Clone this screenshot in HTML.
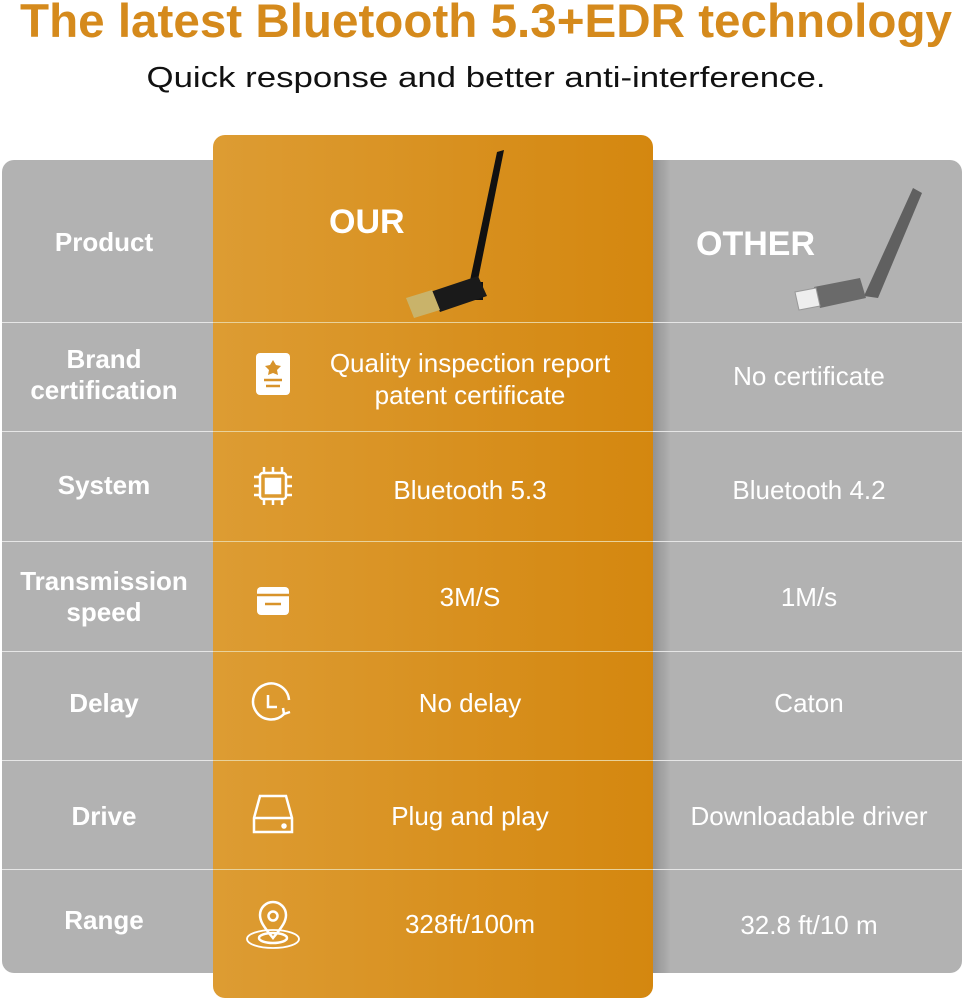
<!DOCTYPE html>
<html><head><meta charset="utf-8"><style>body{margin:0;background:#fff}svg{display:block}</style></head><body>
<svg width="964" height="1000" viewBox="0 0 964 1000" xmlns="http://www.w3.org/2000/svg" style="font-family:'Liberation Sans',Arial,sans-serif">
<defs>
<linearGradient id="og" x1="0" x2="1" y1="0" y2="0"><stop offset="0" stop-color="#dd9c33"/><stop offset="1" stop-color="#d4870f"/></linearGradient>
<linearGradient id="sh" x1="0" x2="1"><stop offset="0" stop-color="#000" stop-opacity="0.18"/><stop offset="1" stop-color="#000" stop-opacity="0"/></linearGradient>
</defs>
<text x="486" y="37" text-anchor="middle" font-size="47" font-weight="bold" fill="#d58a1c" textLength="932" lengthAdjust="spacingAndGlyphs">The latest Bluetooth 5.3+EDR technology</text>
<text x="486" y="87" text-anchor="middle" font-size="29" fill="#111" textLength="679" lengthAdjust="spacingAndGlyphs">Quick response and better anti-interference.</text>
<rect x="2" y="160" width="960" height="813" rx="12" fill="#b2b2b2"/>
<rect x="653" y="160" width="18" height="813" fill="url(#sh)"/>
<g stroke="#e6e6e6" stroke-width="1">
<line x1="2" x2="962" y1="322.5" y2="322.5"/><line x1="2" x2="962" y1="431.5" y2="431.5"/><line x1="2" x2="962" y1="541.5" y2="541.5"/><line x1="2" x2="962" y1="651.5" y2="651.5"/><line x1="2" x2="962" y1="760.5" y2="760.5"/><line x1="2" x2="962" y1="869.5" y2="869.5"/>
</g>
<rect x="213" y="135" width="440" height="863" rx="12" fill="url(#og)"/>
<g stroke="#e9d29a" stroke-width="1">
<line x1="213" x2="653" y1="322.5" y2="322.5"/><line x1="213" x2="653" y1="431.5" y2="431.5"/><line x1="213" x2="653" y1="541.5" y2="541.5"/><line x1="213" x2="653" y1="651.5" y2="651.5"/><line x1="213" x2="653" y1="760.5" y2="760.5"/><line x1="213" x2="653" y1="869.5" y2="869.5"/>
</g>
<g fill="#fff" font-weight="bold" font-size="26" text-anchor="middle">
<text x="104" y="251">Product</text>
<text x="104" y="368">Brand</text><text x="104" y="399">certification</text>
<text x="104" y="494">System</text>
<text x="104" y="590">Transmission</text><text x="104" y="621">speed</text>
<text x="104" y="712">Delay</text>
<text x="104" y="825">Drive</text>
<text x="104" y="929">Range</text>
</g>
<text x="329" y="233" font-size="34" font-weight="bold" fill="#fff">OUR</text>
<text x="696" y="255" font-size="34" font-weight="bold" fill="#fff">OTHER</text>
<g>
<polygon points="497,152 504,150 476,290 468,290" fill="#111"/>
<rect x="465" y="282" width="18" height="18" fill="#111"/>
<polygon points="430,292 478,276 487,296 440,312" fill="#1a1a1a"/>
<polygon points="406,298 432,290 440,310 414,318" fill="#c9b36a"/>
</g>
<g>
<polygon points="913,188 922,193 878,298 864,296" fill="#606060"/>
<polygon points="814,287 860,278 866,298 820,308" fill="#6a6a6a"/>
<polygon points="795,292 816,288 820,306 799,310" fill="#eee" stroke="#999" stroke-width="1"/>
</g>
<g fill="#fff" font-size="26" text-anchor="middle">
<text x="470" y="372">Quality inspection report</text><text x="470" y="404">patent certificate</text>
<text x="470" y="499">Bluetooth 5.3</text>
<text x="470" y="606">3M/S</text>
<text x="470" y="712">No delay</text>
<text x="470" y="825">Plug and play</text>
<text x="470" y="933">328ft/100m</text>
<text x="809" y="385">No certificate</text>
<text x="809" y="499">Bluetooth 4.2</text>
<text x="809" y="606">1M/s</text>
<text x="809" y="712">Caton</text>
<text x="809" y="825">Downloadable driver</text>
<text x="809" y="934">32.8 ft/10 m</text>
</g>
<g fill="none" stroke="#fff" stroke-width="2.5">
<rect x="256" y="353" width="34" height="42" rx="4" fill="#fff" stroke="none"/>
<path d="M273 360 l3 5 5 1 -4 4 1 5 -5 -2 -5 2 1 -5 -4 -4 5 -1z" fill="#d8932a" stroke="none"/>
<line x1="264" y1="380" x2="282" y2="380" stroke="#d8932a"/><line x1="266" y1="386" x2="280" y2="386" stroke="#d8932a"/>
<rect x="260" y="473" width="26" height="26" rx="3"/><rect x="266" y="479" width="14" height="14" fill="#fff"/>
<path d="M264 467v6M273 467v6M282 467v6M264 499v6M273 499v6M282 499v6M254 477h6M254 486h6M254 495h6M286 477h6M286 486h6M286 495h6"/>
<rect x="257" y="587" width="32" height="28" rx="4" fill="#fff" stroke="none"/>
<line x1="257" y1="595" x2="289" y2="595" stroke="#d8932a"/><line x1="265" y1="604" x2="281" y2="604" stroke="#d8932a"/>
<path d="M289 700 a18 18 0 1 0 -5 14"/><path d="M268 695v12h9"/><path d="M284 714l6 -2M284 714l-1 -6"/>
<path d="M254 818 l6 -22 h26 l6 22 v14 h-38z"/><line x1="254" y1="818" x2="292" y2="818"/><circle cx="284" cy="826" r="1.5" fill="#fff"/>
<path d="M273 938 c-10 -12 -13 -17 -13 -23 a13 13 0 0 1 26 0 c0 6 -3 11 -13 23z"/><circle cx="273" cy="916" r="4.5"/>
<ellipse cx="273" cy="939" rx="26" ry="9" stroke-width="1.8"/><ellipse cx="273" cy="938" rx="14" ry="5"/>
</g>
</svg>
</body></html>
